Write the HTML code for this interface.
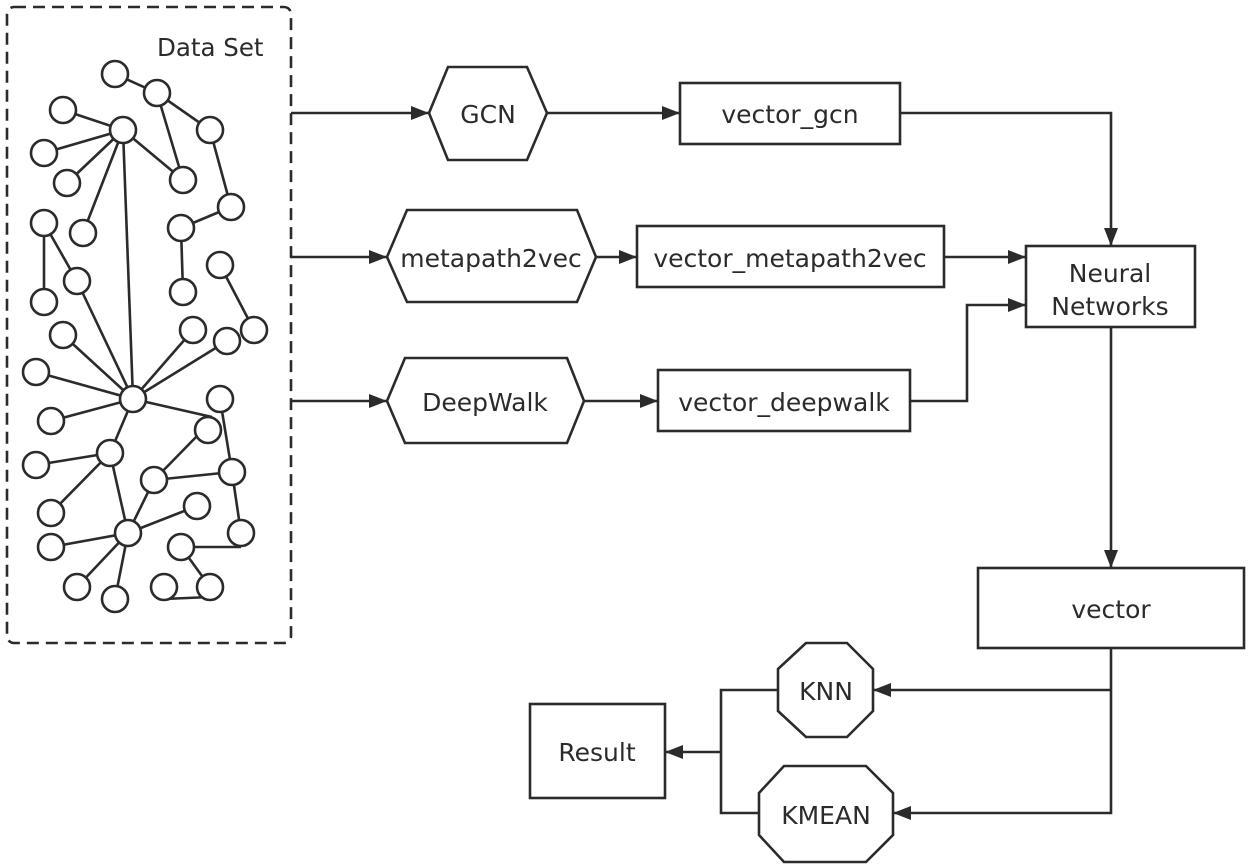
<!DOCTYPE html>
<html><head><meta charset="utf-8"><style>
html,body{margin:0;padding:0;background:#fff;}
svg{display:block;}
text{font-family:"DejaVu Sans","Liberation Sans",sans-serif;font-size:25px;fill:#2b2b2b;}
</style></head><body>
<svg width="1250" height="868" viewBox="0 0 1250 868" xmlns="http://www.w3.org/2000/svg">
<defs>
<marker id="a" markerWidth="18" markerHeight="14" refX="18" refY="7" orient="auto" markerUnits="userSpaceOnUse">
<path d="M0,0 L18,7 L0,14 Z" fill="#2b2b2b"/></marker>
</defs>
<g fill="none" stroke="#2b2b2b" stroke-width="2.6">
<rect x="7" y="7" width="284" height="636" rx="7" stroke-dasharray="12,7"/>
</g>
<text x="157" y="56" style="font-size:24.5px">Data Set</text>
<g stroke="#2b2b2b" stroke-width="2.6" fill="none">
<line x1="115" y1="74" x2="157" y2="93"/>
<line x1="157" y1="93" x2="210" y2="130"/>
<line x1="157" y1="93" x2="183" y2="180"/>
<line x1="123" y1="130" x2="63" y2="110"/>
<line x1="123" y1="130" x2="44" y2="153"/>
<line x1="123" y1="130" x2="67" y2="183"/>
<line x1="123" y1="130" x2="83" y2="233"/>
<line x1="123" y1="130" x2="183" y2="180"/>
<line x1="123" y1="130" x2="133" y2="399"/>
<line x1="210" y1="130" x2="231" y2="207"/>
<line x1="231" y1="207" x2="181" y2="228"/>
<line x1="181" y1="228" x2="183" y2="292"/>
<line x1="44" y1="223" x2="44" y2="302"/>
<line x1="44" y1="223" x2="77" y2="281"/>
<line x1="77" y1="281" x2="133" y2="399"/>
<line x1="220" y1="265" x2="254" y2="330"/>
<line x1="133" y1="399" x2="63" y2="335"/>
<line x1="133" y1="399" x2="36" y2="372"/>
<line x1="133" y1="399" x2="51" y2="421"/>
<line x1="133" y1="399" x2="193" y2="330"/>
<line x1="133" y1="399" x2="227" y2="341"/>
<line x1="133" y1="399" x2="212" y2="417"/>
<line x1="133" y1="399" x2="110" y2="453"/>
<line x1="110" y1="453" x2="36" y2="465"/>
<line x1="110" y1="453" x2="51" y2="513"/>
<line x1="110" y1="453" x2="128" y2="533"/>
<line x1="154" y1="480" x2="199" y2="434"/>
<line x1="154" y1="480" x2="232" y2="472"/>
<line x1="154" y1="480" x2="128" y2="533"/>
<line x1="220" y1="399" x2="232" y2="472"/>
<line x1="232" y1="472" x2="241" y2="533"/>
<line x1="128" y1="533" x2="197" y2="506"/>
<line x1="128" y1="533" x2="51" y2="547"/>
<line x1="128" y1="533" x2="77" y2="587"/>
<line x1="128" y1="533" x2="115" y2="599"/>
<line x1="181" y1="547" x2="241" y2="547"/>
<line x1="181" y1="547" x2="210" y2="587"/>
<line x1="164" y1="599" x2="210" y2="597"/>
</g>
<g stroke="#2b2b2b" stroke-width="2.6" fill="#fff">
<circle cx="115" cy="74" r="13"/><circle cx="157" cy="93" r="13"/><circle cx="63" cy="110" r="13"/>
<circle cx="123" cy="130" r="13"/><circle cx="210" cy="130" r="13"/><circle cx="44" cy="153" r="13"/>
<circle cx="67" cy="183" r="13"/><circle cx="183" cy="180" r="13"/><circle cx="231" cy="207" r="13"/>
<circle cx="44" cy="223" r="13"/><circle cx="83" cy="233" r="13"/><circle cx="181" cy="228" r="13"/>
<circle cx="220" cy="265" r="13"/><circle cx="77" cy="281" r="13"/><circle cx="44" cy="302" r="13"/>
<circle cx="183" cy="292" r="13"/><circle cx="254" cy="330" r="13"/><circle cx="193" cy="330" r="13"/>
<circle cx="227" cy="341" r="13"/><circle cx="63" cy="335" r="13"/><circle cx="36" cy="372" r="13"/>
<circle cx="133" cy="399" r="13"/><circle cx="51" cy="421" r="13"/><circle cx="220" cy="399" r="13"/>
<circle cx="208" cy="430" r="13"/><circle cx="36" cy="465" r="13"/><circle cx="110" cy="453" r="13"/>
<circle cx="154" cy="480" r="13"/><circle cx="232" cy="472" r="13"/><circle cx="51" cy="513" r="13"/>
<circle cx="197" cy="506" r="13"/><circle cx="128" cy="533" r="13"/><circle cx="51" cy="547" r="13"/>
<circle cx="241" cy="533" r="13"/><circle cx="181" cy="547" r="13"/><circle cx="77" cy="587" r="13"/>
<circle cx="115" cy="599" r="13"/><circle cx="164" cy="587" r="13"/><circle cx="210" cy="587" r="13"/>
</g>
<g stroke="#2b2b2b" stroke-width="2.6" fill="#fff">
<polygon points="429,113 448,67 527,67 547,113 527,160 448,160"/>
<polygon points="387,257 407,210 577,210 596,257 577,302 407,302"/>
<polygon points="387,401 405,358 567,358 584,401 567,443 405,443"/>
<rect x="680" y="83" width="220" height="61"/>
<rect x="637" y="226" width="307" height="61"/>
<rect x="658" y="370" width="252" height="61"/>
<rect x="1026" y="246" width="169" height="81"/>
<rect x="978" y="568" width="266" height="80"/>
<rect x="530" y="704" width="135" height="94"/>
<polygon points="806,643 847,643 873,669 873,711 847,737 806,737 778,711 778,669"/>
<polygon points="784,766 866,766 893,793 893,835 866,862 784,862 759,835 759,793"/>
</g>
<g stroke="#2b2b2b" stroke-width="2.6" fill="none">
<line x1="291" y1="113" x2="429" y2="113" marker-end="url(#a)"/>
<line x1="291" y1="257" x2="387" y2="257" marker-end="url(#a)"/>
<line x1="291" y1="401" x2="387" y2="401" marker-end="url(#a)"/>
<line x1="547" y1="113" x2="680" y2="113" marker-end="url(#a)"/>
<line x1="596" y1="257" x2="637" y2="257" marker-end="url(#a)"/>
<line x1="584" y1="401" x2="658" y2="401" marker-end="url(#a)"/>
<polyline points="900,113 1111,113 1111,246" marker-end="url(#a)"/>
<line x1="944" y1="257" x2="1026" y2="257" marker-end="url(#a)"/>
<polyline points="910,401 967,401 967,305 1026,305" marker-end="url(#a)"/>
<line x1="1111" y1="327" x2="1111" y2="568" marker-end="url(#a)"/>
<polyline points="1111,648 1111,813 893,813" marker-end="url(#a)"/>
<line x1="1111" y1="690" x2="873" y2="690" marker-end="url(#a)"/>
<polyline points="778,690 721,690 721,813 759,813"/>
<line x1="721" y1="752" x2="665" y2="752" marker-end="url(#a)"/>
</g>
<g text-anchor="middle">
<text x="488" y="123">GCN</text>
<text x="491" y="267">metapath2vec</text>
<text x="485" y="411">DeepWalk</text>
<text x="790" y="123">vector_gcn</text>
<text x="790" y="267">vector_metapath2vec</text>
<text x="784" y="411">vector_deepwalk</text>
<text x="1110" y="282">Neural</text>
<text x="1110" y="315">Networks</text>
<text x="1111" y="618">vector</text>
<text x="597" y="761">Result</text>
<text x="826" y="700">KNN</text>
<text x="826" y="824">KMEAN</text>
</g>
</svg>
</body></html>
